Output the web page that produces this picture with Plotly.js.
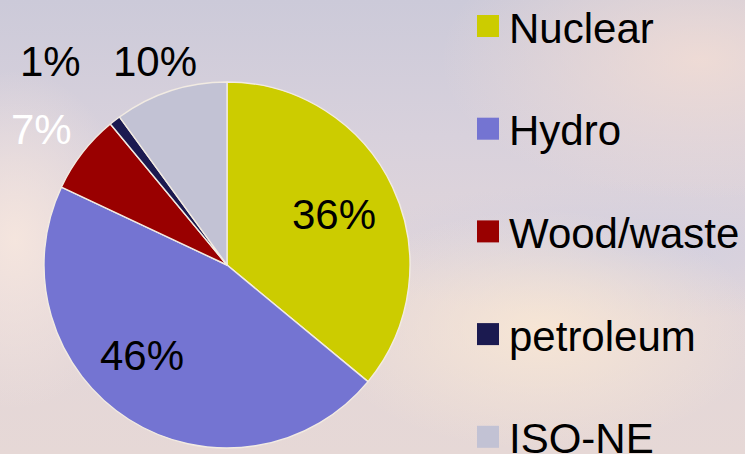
<!DOCTYPE html>
<html>
<head>
<meta charset="utf-8">
<script src="https://cdn.plot.ly/plotly-3.0.1.min.js"></script>
<style>
  html, body { margin:0; padding:0; }
  body {
    width:745px; height:454px; overflow:hidden;
    background:
      radial-gradient(ellipse 220px 120px at 540px 330px, rgba(250,232,212,0.85), rgba(250,232,212,0) 100%),
      radial-gradient(ellipse 260px 140px at 700px 60px, rgba(245,222,212,0.8), rgba(245,222,212,0) 100%),
      radial-gradient(ellipse 300px 70px at 640px 250px, rgba(205,205,225,0.7), rgba(205,205,225,0) 100%),
      radial-gradient(ellipse 120px 170px at 15px 240px, rgba(246,230,222,0.95), rgba(246,230,222,0) 100%),
      linear-gradient(180deg, #cccad9 0%, #d8d1dc 30%, #e2d6da 60%, #e6d8d6 100%);
  }
  #chart { width:745px; height:454px; }
</style>
</head>
<body>
<div id="chart"></div>
<script>
const labels = ["Nuclear", "Hydro", "Wood/waste", "petroleum", "ISO-NE"];
const values = [36, 46, 7, 1, 10];
const colors = ["#cccc00", "#7474d2", "#990000", "#1b1a50", "#c2c2d4"];
const textColors = ["#000000", "#000000", "#ffffff", "#000000", "#000000"];

const W = 745, H = 454;
const font = "Arial, 'Liberation Sans', sans-serif";

// pie placement (pixels -> paper)
const cx = 227, cy = 265, r = 183;
const domain = {
  x: [(cx - r) / W, (cx + r) / W],
  y: [1 - (cy + r) / H, 1 - (cy - r) / H]
};

// label placement (layout): distance from centre in radii, angular nudge in degrees
const labelDist  = [0.65, 0.67, 1.26, 1.48, 1.19];
const labelNudge = [-1.2, 11.3, -1.3, -3.0, -1.4];

const trace = {
  type: "pie",
  labels: labels,
  values: values,
  sort: false,
  direction: "clockwise",
  rotation: 0,
  domain: domain,
  marker: { colors: colors, line: { color: "#f2ebe2", width: 1.4 } },
  textinfo: "none",
  automargin: false,
  showlegend: false,
  hoverinfo: "none"
};

const shapes = [], annotations = [];

// slice percentage labels, positioned from each slice's mid angle
const total = values.reduce((a, b) => a + b, 0);
let cum = 0;
values.forEach((v, i) => {
  const mid = (cum + v / 2) / total * 360 + labelNudge[i];
  cum += v;
  const a = mid * Math.PI / 180;
  const px = cx + Math.sin(a) * r * labelDist[i];
  const py = cy - Math.cos(a) * r * labelDist[i];
  annotations.push({
    xref: "paper", yref: "paper",
    x: px / W, y: 1 - (py + 2) / H,
    xanchor: "center", yanchor: "middle",
    text: Math.round(v / total * 100) + "%", showarrow: false,
    font: { family: font, size: 42, color: textColors[i] }
  });
});

// custom legend built from the arrays
const legX0 = 477, legSq = 22, legTextX = 507, legY0 = 26, legStep = 102.7;
labels.forEach((lab, i) => {
  const yc = legY0 + i * legStep;
  shapes.push({
    type: "rect", xref: "paper", yref: "paper",
    x0: legX0 / W, x1: (legX0 + legSq) / W,
    y0: 1 - (yc + legSq / 2) / H, y1: 1 - (yc - legSq / 2) / H,
    fillcolor: colors[i], line: { width: 0 }
  });
  annotations.push({
    xref: "paper", yref: "paper",
    x: legTextX / W, y: 1 - (yc + 2) / H,
    xanchor: "left", yanchor: "middle",
    text: lab, showarrow: false,
    font: { family: font, size: 42, color: "#000000" }
  });
});

const layout = {
  width: W, height: H,
  margin: { l: 0, r: 0, t: 0, b: 0 },
  paper_bgcolor: "rgba(0,0,0,0)",
  plot_bgcolor: "rgba(0,0,0,0)",
  showlegend: false,
  shapes: shapes,
  annotations: annotations
};

Plotly.newPlot("chart", [trace], layout, { staticPlot: true, displayModeBar: false });
</script>
</body>
</html>
